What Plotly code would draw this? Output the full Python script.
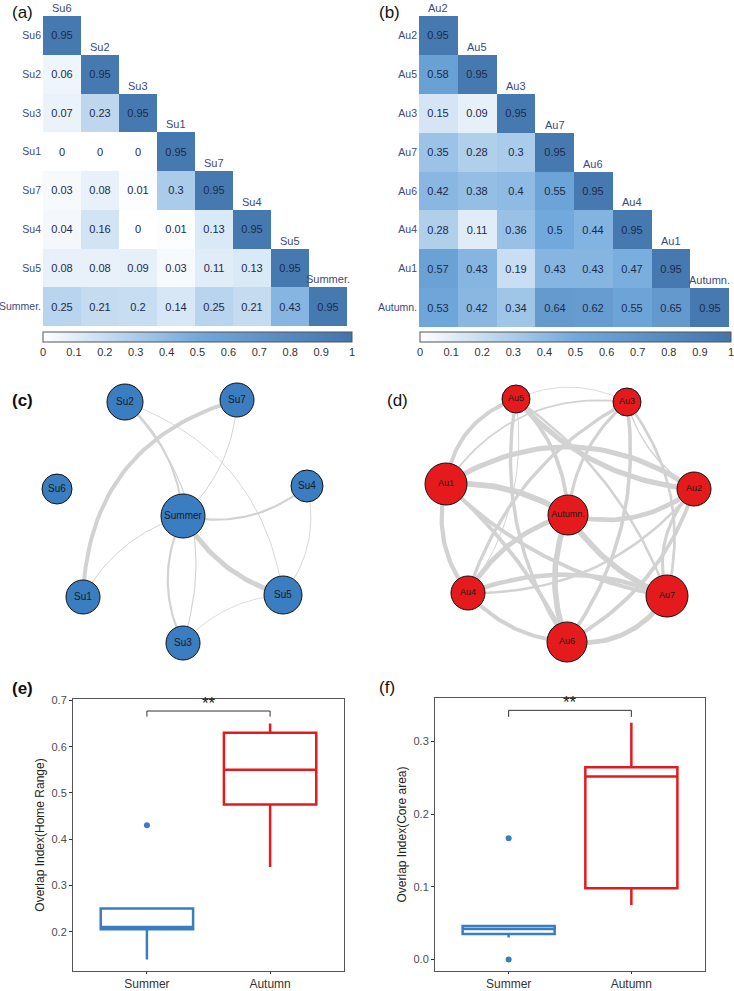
import numpy as np
import plotly.graph_objects as go

W, H = 734, 991
FONT = "Arial, Liberation Sans, sans-serif"

# ---------------- data ----------------
su_labels = ["Su6", "Su2", "Su3", "Su1", "Su7", "Su4", "Su5", "Summer."]
su_matrix = [
    [0.95],
    [0.06, 0.95],
    [0.07, 0.23, 0.95],
    [0, 0, 0, 0.95],
    [0.03, 0.08, 0.01, 0.3, 0.95],
    [0.04, 0.16, 0, 0.01, 0.13, 0.95],
    [0.08, 0.08, 0.09, 0.03, 0.11, 0.13, 0.95],
    [0.25, 0.21, 0.2, 0.14, 0.25, 0.21, 0.43, 0.95],
]
au_labels = ["Au2", "Au5", "Au3", "Au7", "Au6", "Au4", "Au1", "Autumn."]
au_matrix = [
    [0.95],
    [0.58, 0.95],
    [0.15, 0.09, 0.95],
    [0.35, 0.28, 0.3, 0.95],
    [0.42, 0.38, 0.4, 0.55, 0.95],
    [0.28, 0.11, 0.36, 0.5, 0.44, 0.95],
    [0.57, 0.43, 0.19, 0.43, 0.43, 0.47, 0.95],
    [0.53, 0.42, 0.34, 0.64, 0.62, 0.55, 0.65, 0.95],
]

# network layouts (layout units)
su_nodes = ["Su2", "Su7", "Su6", "Su4", "Summer", "Su1", "Su5", "Su3"]
su_node_x = [125, 237, 57, 307, 183, 83, 283, 183]
su_node_y = [402, 400, 489, 486, 516, 597, 595, 643]
su_node_size = [36, 34, 30, 32, 44, 34, 38, 34]
su_edges = [("Su7", "Su1", 0.36), ("Summer", "Su5", 0.45), ("Su2", "Summer", 0.18),
            ("Su2", "Su3", 0.1), ("Su2", "Su5", 0.08), ("Su7", "Summer", 0.09),
            ("Su4", "Summer", 0.2), ("Su4", "Su5", 0.08), ("Summer", "Su1", 0.09),
            ("Summer", "Su3", 0.2), ("Su3", "Su5", 0.07)]
su_curv = [0.18, 0.1, -0.1, -0.15, -0.15, -0.1, -0.12, -0.12, 0.1, 0.12, -0.1]

au_nodes = ["Au5", "Au3", "Au1", "Au2", "Autumn.", "Au4", "Au7", "Au6"]
au_node_x = [516, 627, 446, 694, 568, 468, 667, 567]
au_node_y = [399, 402, 484, 489, 515, 593, 596, 642]
au_node_size = [28, 28, 42, 34, 40, 34, 42, 40]
au_curv = {
    ("Au5", "Au2"): 0.1, ("Au3", "Au2"): 0.1, ("Au3", "Au5"): 0.12,
    ("Au7", "Au2"): -0.14, ("Au7", "Au5"): 0.08, ("Au7", "Au3"): 0.12,
    ("Au6", "Au2"): 0.1, ("Au6", "Au5"): -0.1, ("Au6", "Au3"): 0.1, ("Au6", "Au7"): 0.15,
    ("Au4", "Au2"): 0.12, ("Au4", "Au5"): 0.1, ("Au4", "Au3"): -0.1, ("Au4", "Au7"): -0.1,
    ("Au4", "Au6"): 0.1,
    ("Au1", "Au2"): -0.16, ("Au1", "Au5"): -0.15, ("Au1", "Au3"): -0.15, ("Au1", "Au7"): 0.08,
    ("Au1", "Au6"): -0.05, ("Au1", "Au4"): 0.12,
    ("Autumn.", "Au2"): 0.12, ("Autumn.", "Au5"): 0.1, ("Autumn.", "Au3"): -0.1,
    ("Autumn.", "Au7"): 0.08, ("Autumn.", "Au6"): 0.1, ("Autumn.", "Au4"): 0.1,
    ("Autumn.", "Au1"): 0.08,
}

# boxplot data
groups = ["Summer", "Autumn"]
home_summer = [0.25, 0.21, 0.2, 0.14, 0.25, 0.21, 0.43]
home_autumn = [0.53, 0.42, 0.34, 0.64, 0.62, 0.55, 0.65]
core_summer = [0.0, 0.030, 0.040, 0.042, 0.045, 0.047, 0.167]
core_autumn = [0.075, 0.090, 0.106, 0.252, 0.258, 0.271, 0.326]

BLUE = "#3a7dc0"
RED = "#e41a1c"

fig = go.Figure()


def px_x(p):
    return p / W


def px_y(p):
    return 1 - p / H


# ---------------- heatmaps ----------------
cscale = [[0, "#ffffff"], [0.5, "#72a9dc"], [1, "#4174ab"]]


def full(mat):
    n = len(mat)
    z = [[(mat[i][j] if j <= i else None) for j in range(n)] for i in range(n)]
    t = [[(f"{mat[i][j]:g}" if j <= i else "") for j in range(n)] for i in range(n)]
    return z, t


def add_heat(mat, labels, xa, ya, cax):
    z, t = full(mat)
    fig.add_trace(go.Heatmap(z=z, x=labels, y=labels, text=t, texttemplate="%{text}",
                             textfont=dict(size=11, color="#1c2a4c", family=FONT),
                             coloraxis=cax, xaxis=xa, yaxis=ya, hoverinfo="skip"))
    for i, lab in enumerate(labels):
        fig.add_annotation(x=i, y=i - 0.5, text=lab, xref=xa, yref=ya, showarrow=False,
                           yanchor="bottom", font=dict(size=11, color="#3b4a7e", family=FONT))


add_heat(su_matrix, su_labels, "x", "y", "coloraxis")
add_heat(au_matrix, au_labels, "x2", "y2", "coloraxis2")

cb_common = dict(orientation="h", lenmode="pixels", thickness=10, xanchor="left",
                 yanchor="top", y=px_y(332), xpad=0, ypad=0, outlinecolor="#555",
                 outlinewidth=1, tickvals=[i / 10 for i in range(11)],
                 ticktext=["0"] + [f"{i/10:g}" for i in range(1, 10)] + ["1"],
                 ticklabeloverflow="allow",
                 tickfont=dict(size=11, color="#333", family=FONT), ticks="")
fig.update_layout(
    coloraxis=dict(colorscale=cscale, cmin=0, cmax=1,
                   colorbar=dict(cb_common, x=px_x(43), len=309)),
    coloraxis2=dict(colorscale=cscale, cmin=0, cmax=1,
                    colorbar=dict(cb_common, x=px_x(420), len=311)),
)

hm_axis = dict(showgrid=False, zeroline=False, showline=False, ticks="", automargin=False)
fig.update_layout(
    xaxis=dict(hm_axis, domain=[px_x(43), px_x(352)], showticklabels=False, anchor="y"),
    yaxis=dict(hm_axis, domain=[px_y(326), px_y(16)], autorange="reversed", anchor="x",
               tickfont=dict(size=10.5, color="#3b4a7e", family=FONT), ticklabelstandoff=1),
    xaxis2=dict(hm_axis, domain=[px_x(419), px_x(732)], showticklabels=False, anchor="y2"),
    yaxis2=dict(hm_axis, domain=[px_y(327), px_y(16)], autorange="reversed", anchor="x2",
                tickfont=dict(size=10.5, color="#3b4a7e", family=FONT), ticklabelstandoff=1),
)


# ---------------- networks ----------------
def curve(ax_, ay_, bx_, by_, c, n=40):
    dx, dy = bx_ - ax_, by_ - ay_
    L = np.hypot(dx, dy)
    nx, ny = -dy / L, dx / L
    mx, my = (ax_ + bx_) / 2, (ay_ + by_) / 2
    cx, cy = mx + 2 * c * L * nx, my + 2 * c * L * ny
    t = np.linspace(0, 1, n)
    x = (1 - t) ** 2 * ax_ + 2 * (1 - t) * t * cx + t ** 2 * bx_
    y = (1 - t) ** 2 * ay_ + 2 * (1 - t) * t * cy + t ** 2 * by_
    return x, y


EDGE = "#d2d2d2"
su_pos = {n: (x, y) for n, x, y in zip(su_nodes, su_node_x, su_node_y)}
for (a, b, w), c in zip(su_edges, su_curv):
    x, y = curve(*su_pos[a], *su_pos[b], c)
    fig.add_trace(go.Scatter(x=x, y=y, mode="lines", line=dict(color=EDGE, width=11 * w),
                             xaxis="x3", yaxis="y3", hoverinfo="skip", showlegend=False))
fig.add_trace(go.Scatter(x=su_node_x, y=su_node_y, mode="markers+text", text=su_nodes,
                         textfont=dict(size=10, color="#1a1a1a", family=FONT),
                         marker=dict(size=su_node_size, color=BLUE, opacity=1,
                                     line=dict(color="#111", width=1)),
                         xaxis="x3", yaxis="y3", cliponaxis=False, hoverinfo="skip", showlegend=False))

au_pos = {n: (x, y) for n, x, y in zip(au_nodes, au_node_x, au_node_y)}
for i in range(len(au_labels)):
    for j in range(i):
        a, b, w = au_labels[i], au_labels[j], au_matrix[i][j]
        c = au_curv.get((a, b), 0.1)
        x, y = curve(*au_pos[a], *au_pos[b], c)
        fig.add_trace(go.Scatter(x=x, y=y, mode="lines", line=dict(color=EDGE, width=9 * w),
                                 xaxis="x4", yaxis="y4", hoverinfo="skip", showlegend=False))
fig.add_trace(go.Scatter(x=au_node_x, y=au_node_y, mode="markers+text", text=au_nodes,
                         textfont=dict(size=9, color="#1a1a1a", family=FONT),
                         marker=dict(size=au_node_size, color=RED, opacity=1,
                                     line=dict(color="#111", width=1)),
                         xaxis="x4", yaxis="y4", cliponaxis=False, hoverinfo="skip", showlegend=False))

net_axis = dict(showgrid=False, zeroline=False, showline=False, showticklabels=False, ticks="",
                automargin=False)
fig.update_layout(
    xaxis3=dict(net_axis, domain=[0, 0.5], range=[0, 367], anchor="y3"),
    yaxis3=dict(net_axis, domain=[px_y(665), px_y(345)], range=[665, 345], anchor="x3"),
    xaxis4=dict(net_axis, domain=[0.5, 1], range=[367, 734], anchor="y4"),
    yaxis4=dict(net_axis, domain=[px_y(665), px_y(345)], range=[665, 345], anchor="x4"),
)

# ---------------- boxplots ----------------
def add_box(vals, grp, color, xa, ya):
    fig.add_trace(go.Box(y=vals, x=[grp] * len(vals), name=grp, quartilemethod="inclusive",
                         boxpoints="outliers", line=dict(color=color, width=2.5),
                         fillcolor="rgba(255,255,255,0)", whiskerwidth=0, width=0.75,
                         marker=dict(color=color, size=6), xaxis=xa, yaxis=ya,
                         showlegend=False, hoverinfo="skip"))


add_box(home_summer, "Summer", BLUE, "x5", "y5")
add_box(home_autumn, "Autumn", RED, "x5", "y5")
add_box(core_summer, "Summer", BLUE, "x6", "y6")
add_box(core_autumn, "Autumn", RED, "x6", "y6")

sig_home = (0.665, 0.677)
sig_core = (0.334, 0.343)
for (lo, hi), xa, ya in [(sig_home, "x5", "y5"), (sig_core, "x6", "y6")]:
    fig.add_trace(go.Scatter(x=["Summer", "Summer", "Autumn", "Autumn"], y=[lo, hi, hi, lo],
                             mode="lines", line=dict(color="#333", width=1), xaxis=xa, yaxis=ya,
                             showlegend=False, hoverinfo="skip"))
    fig.add_annotation(x=0.5, y=hi, xref=xa, yref=ya, text="**", showarrow=False,
                       yanchor="bottom", yshift=-4, font=dict(size=17, color="#222", family=FONT))

box_x = dict(type="category", categoryorder="array", categoryarray=groups, range=[-0.6, 1.6],
             showgrid=False, zeroline=False, showline=True, mirror=True, linecolor="#555",
             linewidth=1, ticks="outside", ticklen=2, tickcolor="#333", automargin=False,
             tickfont=dict(size=12, color="#333", family=FONT))
box_y = dict(showgrid=False, zeroline=False, showline=True, mirror=True, linecolor="#555",
             linewidth=1, ticks="outside", ticklen=3, tickcolor="#333", tickformat=".1f",
             automargin=False, tickfont=dict(size=11, color="#4d4d4d", family=FONT),
             title=dict(font=dict(size=12, color="#222", family=FONT), standoff=4))
fig.update_layout(
    xaxis5=dict(box_x, domain=[px_x(73), px_x(344)], anchor="y5"),
    yaxis5=dict(box_y, domain=[px_y(971), px_y(699)], range=[0.115, 0.703], anchor="x5",
                tickvals=[0.2, 0.3, 0.4, 0.5, 0.6, 0.7],
                title=dict(box_y["title"], text="Overlap Index(Home Range)")),
    xaxis6=dict(box_x, domain=[px_x(435), px_x(705)], anchor="y6"),
    yaxis6=dict(box_y, domain=[px_y(971), px_y(698)], range=[-0.016, 0.360], anchor="x6",
                tickvals=[0.0, 0.1, 0.2, 0.3],
                title=dict(box_y["title"], text="Overlap Index(Core area)")),
)

# ---------------- panel letters ----------------
letters = [("(a)", 10, 12, False), ("(b)", 377, 12, False), ("(c)", 10, 400, True),
           ("(d)", 385, 400, False), ("(e)", 10, 688, True), ("(f)", 377, 687, False)]
for txt, lx, ly, bold in letters:
    fig.add_annotation(x=px_x(lx), y=px_y(ly), xref="paper", yref="paper", showarrow=False,
                       xanchor="left", yanchor="middle",
                       text=f"<b>{txt}</b>" if bold else txt,
                       font=dict(size=17, color="#111", family=FONT))

fig.update_layout(width=W, height=H, margin=dict(l=0, r=0, t=0, b=0, autoexpand=False),
                  paper_bgcolor="white", plot_bgcolor="white", showlegend=False,
                  font=dict(family=FONT))
fig.write_html("out.html", config={"displayModeBar": False},
               post_script="document.body.style.margin='0';")
